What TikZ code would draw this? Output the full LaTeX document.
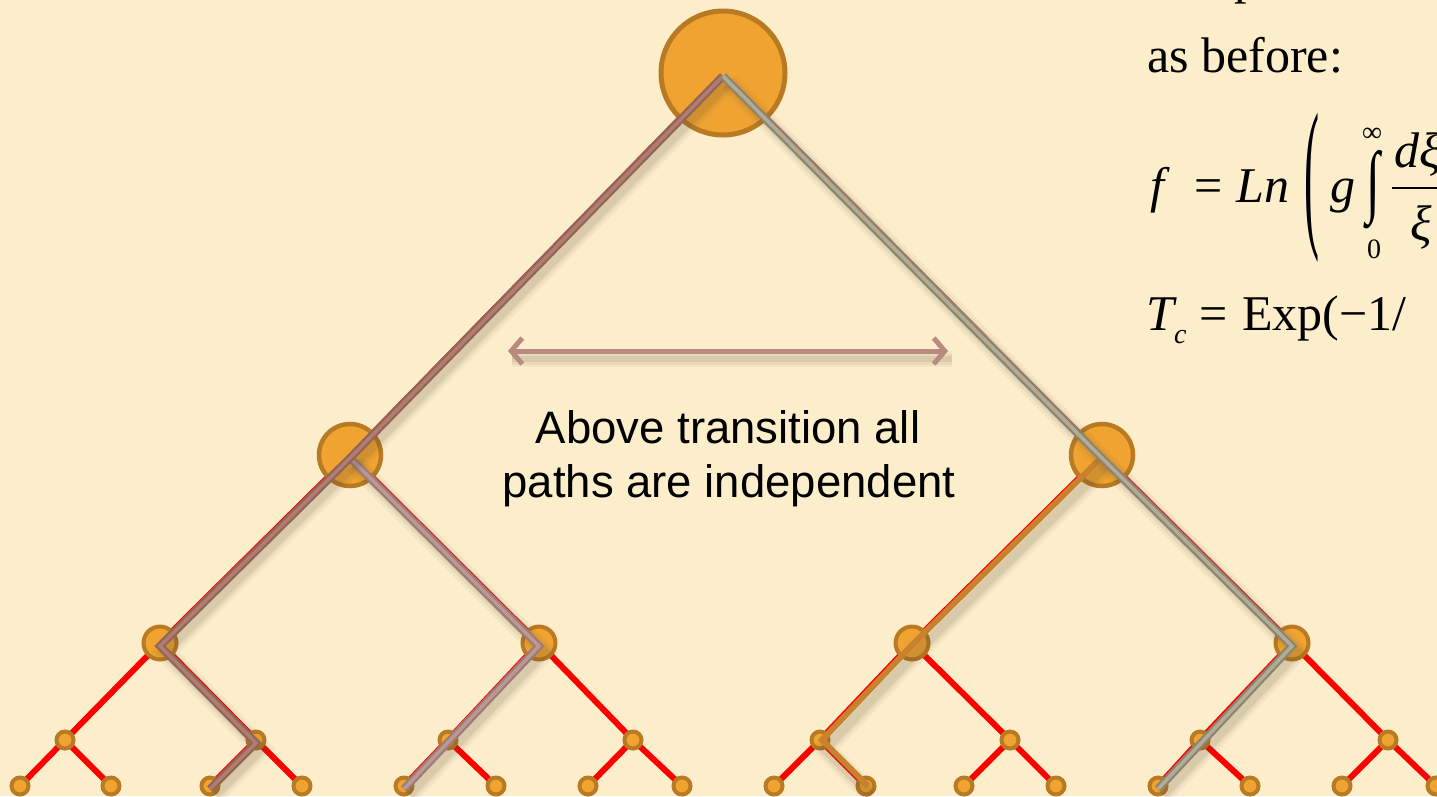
\documentclass[tikz,border=0pt]{standalone}
\usepackage{fontspec}
\setmainfont{Liberation Serif}
\newfontfamily\labelfont{Liberation Sans}
\usetikzlibrary{arrows.meta}
\definecolor{bgc}{HTML}{FCEECB}
\definecolor{nodefill}{HTML}{F0A330}
\definecolor{nodeedge}{HTML}{B87A22}
\definecolor{edgered}{HTML}{FF0000}
\definecolor{shadowc}{HTML}{5A4A30}
\definecolor{pAout}{HTML}{916659}
\definecolor{pAin}{HTML}{B07D70}
\definecolor{pBout}{HTML}{9E7B77}
\definecolor{pBin}{HTML}{BA9894}
\definecolor{pCout}{HTML}{8C856F}
\definecolor{pCin}{HTML}{B2AB95}
\definecolor{pD}{HTML}{C8812E}
\definecolor{arrowc}{HTML}{B88A82}
\pgfdeclarelayer{back}
\pgfdeclarelayer{edges}
\pgfsetlayers{back,edges,main}
\newcommand{\shadowof}[2][9]{%
  \foreach \w/\o in {20/0.05,14/0.07,#1/0.1}{%
    \draw[line width=\w pt, draw=shadowc, opacity=\o, line join=miter,
      transform canvas={shift={(5pt,-9pt)}}] #2;}}
\newcommand{\bevelpath}[3]{%
  \shadowof{#3}
  \begin{scope}[transform canvas={shift={(0pt,-3pt)}}]
  \draw[line width=8pt, draw=#1, line join=miter] #3;
  \draw[line width=3.5pt, draw=#2, line join=miter] #3;
  \end{scope}}
\begin{document}
\begin{tikzpicture}[x=1pt,y=-1pt,
  treenode/.style={circle, fill=nodefill, draw=nodeedge, inner sep=0pt},
  rootnode/.style={treenode, line width=5pt, minimum size=124pt},
  onenode/.style={treenode, line width=4.5pt, minimum size=62pt},
  twonode/.style={treenode, line width=4pt, minimum size=33pt},
  leafnode/.style={treenode, line width=4pt, minimum size=17pt},
  redge/.style={draw=edgered, line width=#1 pt, line cap=butt},
  labeltext/.style={font=\labelfont\fontsize{45.5}{54}\selectfont, inner sep=0pt, anchor=base},
  ftext/.style={font=\fontsize{50}{60}\selectfont, inner sep=0pt, anchor=base west},
  fsmall/.style={font=\fontsize{28}{32}\selectfont, inner sep=0pt, anchor=base west}]
\begin{pgfonlayer}{back}
\fill[bgc] (0,0) rectangle (1437,796);
\end{pgfonlayer}
\useasboundingbox (0,0) rectangle (1437,796);
% nodes
\node[rootnode] (r) at (723,73) {};
\node[onenode] (a) at (350,455) {};
\node[onenode] (b) at (1102,455) {};
\foreach \n/\x in {aa/160, ab/539, ba/912, bb/1292}
  \node[twonode] (\n) at (\x,643) {};
\foreach \n/\x in {aaa/65, aab/256, aba/448, abb/633, baa/820, bab/1010, bba/1200, bbb/1388}
  \node[leafnode] (\n) at (\x,740) {};
\begin{pgfonlayer}{edges}
\draw[redge=4] (r.center) -- (a.center);
\draw[redge=4] (r.center) -- (b.center);
\foreach \p/\c in {a/aa, a/ab, b/ba, b/bb}
  \draw[redge=5.5] (\p.center) -- (\c.center);
\foreach \p/\c in {aa/aaa, aa/aab, ab/aba, ab/abb, ba/baa, ba/bab, bb/bba, bb/bbb}
  \draw[redge=6] (\p.center) -- (\c.center);
\end{pgfonlayer}
\foreach \n/\x/\p in {l1/20/aaa, l2/111/aaa, l3/210/aab, l4/302/aab, l5/404/aba, l6/496/aba, l7/588/abb, l8/682/abb, l9/774/baa, l10/866/baa, l11/964/bab, l12/1056/bab, l13/1158/bba, l14/1250/bba, l15/1342/bbb, l16/1436/bbb}{
  \node[leafnode] (\n) at (\x,786) {};
  \begin{pgfonlayer}{edges}
  \draw[redge=6] (\p.center) -- (\n.center);
  \end{pgfonlayer}
}
% highlighted paths
\bevelpath{pBout}{pBin}{(a.center) -- (ab.center) -- (l5.center)}
\bevelpath{pAout}{pAin}{(r.center) -- (a.center) -- (aa.center) -- (aab.center) -- (l3.center)}
\shadowof{(b.center) -- (ba.center) -- (baa.center) -- (l10.center)}
\draw[line width=6pt, draw=pD, line join=miter, transform canvas={shift={(2pt,0pt)}}] (b.center) -- (ba.center) -- (baa.center) -- (l10.center);
\bevelpath{pCout}{pCin}{(r.center) -- (b.center) -- (bb.center) -- (l13.center)}
% arrow
\coordinate (arL) at (508,351);
\coordinate (arR) at (948,351);
\foreach \w/\o in {16/0.05,11/0.07,6/0.1}{%
  \draw[line width=\w pt, draw=shadowc, opacity=\o, transform canvas={shift={(4pt,-8pt)}}] (arL) -- (arR);}
\draw[draw=arrowc, line width=5pt, {Straight Barb[length=11pt,width=26pt]}-{Straight Barb[length=11pt,width=26pt]}] (arL) -- (arR);
% label
\node[labeltext] (t1) at (728,443) {Above transition all};
\node[labeltext] (t2) at (729,497) {paths are independent};
% formula area
\node[ftext] (p0) at (1234,-7) {p};
\node[ftext] (asb) at (1147,72) {as before:};
\node[ftext] (ff) at (1150,202) {\itshape f};
\node[ftext] (eq1) at (1194,202) {=};
\node[ftext] (ln) at (1236,202) {\itshape Ln};
\node[ftext, anchor=center] (par) at (1312,188) {\scalebox{0.9}[3.3]{(}};
\node[ftext] (gg) at (1330,202) {\itshape g};
\node[ftext, anchor=center] (int) at (1373,190) {\scalebox{1}[1.6]{∫}};
\node[fsmall] (inf) at (1362,141) {∞};
\node[fsmall] (zero) at (1367,258) {0};
\node[ftext] (dx) at (1394,167) {\itshape dξ};
\coordinate (barL) at (1392,188);
\coordinate (barR) at (1440,188);
\draw[line width=2.2pt] (barL) -- (barR);
\node[ftext] (xi) at (1410,240) {\itshape ξ};
\node[ftext] (tt) at (1146,330) {\itshape T};
\node[fsmall] (cc) at (1174,343) {\itshape c};
\node[ftext] (eq2) at (1199,330) {=};
\node[ftext] (expo) at (1242,330) {Exp(−1/};
\end{tikzpicture}
\end{document}
